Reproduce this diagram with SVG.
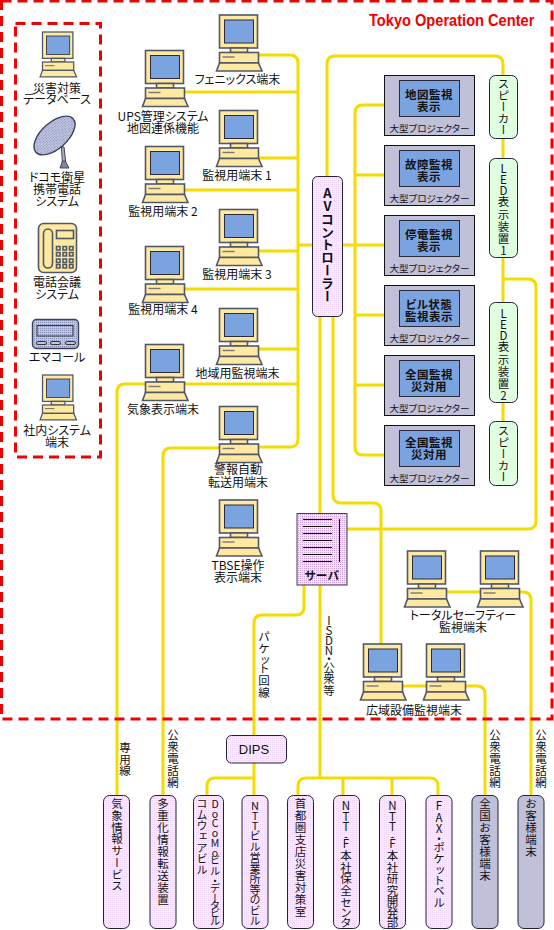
<svg xmlns="http://www.w3.org/2000/svg" width="554" height="930" viewBox="0 0 554 930">
<style>
text{font-family:"Noto Sans CJK JP","Liberation Sans",sans-serif;fill:#111;dominant-baseline:central;text-anchor:middle;font-size:12px;font-feature-settings:"palt"}
.b{font-weight:700;font-size:11.500px;letter-spacing:.5px}
.p{font-size:9.500px}
.v{writing-mode:vertical-rl;text-orientation:upright;text-anchor:start;font-feature-settings:normal;font-size:11.500px}
.title{font-family:"Liberation Sans",sans-serif;font-weight:700;font-size:17px;fill:#f00000;text-anchor:start;dominant-baseline:auto}
.c{fill:none;stroke:#f5dc00;stroke-width:3}
.r{fill:none;stroke:#f00000;stroke-width:3;stroke-dasharray:10 6}
.frame{fill:#ffe9a0;stroke:#505868;stroke-width:1.600}
.scr{fill:#7ba3e0;stroke:#2a2a3a;stroke-width:1}
.proj{fill:#c0c0d8;stroke:#111;stroke-width:1}
.box{stroke:#222238;stroke-width:1}
.lav{fill:url(#dotLav)}
.gr{fill:#e0ffe0}
.gy{fill:#c0c0d8}
</style>
<defs>
<pattern id="dotLav" width="2" height="2" patternUnits="userSpaceOnUse"><rect width="2" height="2" fill="#f8ecfc"/><rect width="1" height="1" fill="#ecd4f4"/></pattern>
<pattern id="dotSrv" width="2" height="2" patternUnits="userSpaceOnUse"><rect width="2" height="2" fill="#f4e4f8"/><rect width="1" height="1" fill="#c8a0d4"/></pattern>
<pattern id="dotBlue" width="2" height="2" patternUnits="userSpaceOnUse"><rect width="2" height="2" fill="#c0c6e0"/><rect width="1" height="1" fill="#8890b8"/></pattern>
<g id="pc">
<rect class="frame" x="0" y="0" width="38" height="33"/>
<rect class="scr" x="5" y="5" width="29" height="23"/>
<rect class="frame" x="11" y="33" width="17" height="4.500"/>
<rect class="frame" x="0" y="37.500" width="39" height="10.500"/>
<path d="M3 42H15" stroke="#777" stroke-width="1.400" fill="none"/>
<path class="frame" d="M0 48H39L42.500 56H-3Z"/>
</g>
<g id="prj">
<rect class="proj" x="0" y="0" width="90" height="60"/>
<rect class="scr" x="15" y="5" width="60" height="36"/>
<text class="p" x="45" y="52">大型プロジェクター</text>
</g>
</defs>
<rect width="554" height="930" fill="#fff"/>

<g id="connectors">
<path class="c" d="M258 55H290Q298 55 298 63V439Q298 447 290 447H258"/>
<path class="c" d="M184 92H298M258 158H298M184 190H298M258 251H298M184 289H298M258 349H298M184 384H298M298 245H313M343 245H355"/>
<path class="c" d="M327 176V64Q327 56 335 56H495Q503 56 503 64V421"/>
<path class="c" d="M385 105H363Q355 105 355 113V447Q355 455 363 455H385M355 175H385M355 245H385M355 315H385M355 385H385"/>
<path class="c" d="M503 279H528Q536 279 536 287V521Q536 529 528 529H347"/>
<path class="c" d="M320 317V778M298 796V786Q298 778 306 778H430Q438 778 438 786V796M343 778V796M392 778V796"/>
<path class="c" d="M333 317V495Q333 503 341 503H373Q381 503 381 511V644"/>
<path class="c" d="M304 585V607Q304 615 296 615H262Q254 615 254 623V735M254 763V796M254 778H215Q207 778 207 786V796"/>
<path class="c" d="M447 592H480M518 592H523Q531 592 531 600V796"/>
<path class="c" d="M402 686H426M465 686H477Q485 686 485 694V796"/>
<path class="c" d="M145 384H125Q117 384 117 392V796"/>
<path class="c" d="M219 448H171Q163 448 163 456V796"/>
</g>

<g id="boundaries">
<rect class="r" x="1.500" y="1" width="550.500" height="718"/>
<rect class="r" x="15.500" y="23.500" width="85" height="433.500"/>
</g>
<text id="title" class="title" transform="translate(369 26) scale(.86 1)">Tokyo Operation Center</text>

<g id="n-saigai"><use href="#pc" transform="translate(42.500 32) scale(.8)"/><text><tspan x="57" y="87">災害対策</tspan><tspan x="57" y="98">データベース</tspan></text></g>
<g id="n-docomo">
<path d="M61.500 147L64 147L66 165H62.500Z" fill="#a8b0d0" stroke="#445" stroke-width="1"/>
<path d="M60 168L62.500 161H65L69 168Z" fill="#8088a8" stroke="#445" stroke-width="1"/>
<ellipse cx="54.500" cy="135.500" rx="25" ry="13" transform="rotate(-42 54.500 135.500)" fill="url(#dotBlue)" stroke="#3c4058" stroke-width="1.400"/>
<text><tspan x="57" y="176">ドコモ衛星</tspan><tspan x="57" y="188">携帯電話</tspan><tspan x="57" y="200">システム</tspan></text></g>
<g id="n-tel">
<rect class="frame" x="38.500" y="223.500" width="38" height="49" rx="5"/>
<rect class="frame" x="43.500" y="229" width="9" height="39" rx="4.500"/>
<rect class="frame" x="56.500" y="230.500" width="17" height="8"/>
<path class="frame" d="M56.500 246.500h3.500v3.500h-3.500zM63 246.500h3.500v3.500h-3.500zM69.500 246.500h3.500v3.500h-3.500zM56.500 252.500h3.500v3.500h-3.500zM63 252.500h3.500v3.500h-3.500zM69.500 252.500h3.500v3.500h-3.500zM56.500 259h3.500v3.500h-3.500zM63 259h3.500v3.500h-3.500zM69.500 259h3.500v3.500h-3.500zM56.500 264.500h3.500v3.500h-3.500zM63 264.500h3.500v3.500h-3.500zM69.500 264.500h3.500v3.500h-3.500z"/>
<text><tspan x="57" y="281">電話会議</tspan><tspan x="57" y="293">システム</tspan></text></g>
<g id="n-pager">
<rect x="32.500" y="319.500" width="46" height="29" rx="4" fill="url(#dotBlue)" stroke="#3c4058" stroke-width="1.400"/>
<rect x="37" y="325.500" width="36" height="10.500" fill="url(#dotBlue)" stroke="#333" stroke-width="1"/>
<rect x="36.500" y="341.500" width="10" height="3" rx="1.500" fill="#c0c6e0" stroke="#333" stroke-width="1"/>
<rect x="50.500" y="341.500" width="10" height="3" rx="1.500" fill="#c0c6e0" stroke="#333" stroke-width="1"/>
<rect x="65.500" y="341.500" width="10" height="3" rx="1.500" fill="#c0c6e0" stroke="#333" stroke-width="1"/>
<text x="57" y="356">エマコール</text></g>
<g id="n-shanai"><use href="#pc" transform="translate(42.500 375) scale(.8)"/><text><tspan x="57" y="429">社内システム</tspan><tspan x="57" y="441">端末</tspan></text></g>

<g id="n-phoenix"><use href="#pc" x="219.500" y="15"/><text x="237.500" y="78">フェニックス端末</text></g>
<g id="n-ups"><use href="#pc" x="145.500" y="50.500"/><text><tspan x="163" y="115">UPS管理システム</tspan><tspan x="163" y="127">地図連係機能</tspan></text></g>
<g id="n-kanshi1"><use href="#pc" x="219.500" y="110.500"/><text x="237" y="174">監視用端末 1</text></g>
<g id="n-kanshi2"><use href="#pc" x="145.500" y="146.500"/><text x="163" y="210">監視用端末 2</text></g>
<g id="n-kanshi3"><use href="#pc" x="219.500" y="209.500"/><text x="237" y="273">監視用端末 3</text></g>
<g id="n-kanshi4"><use href="#pc" x="145.500" y="246.500"/><text x="163" y="308">監視用端末 4</text></g>
<g id="n-chiiki"><use href="#pc" x="219.500" y="308.500"/><text x="237.500" y="372">地域用監視端末</text></g>
<g id="n-kisho"><use href="#pc" x="145.500" y="344.500"/><text x="163" y="408">気象表示端末</text></g>
<g id="n-keiho"><use href="#pc" x="219.500" y="406.500"/><text><tspan x="238" y="468">警報自動</tspan><tspan x="238" y="481">転送用端末</tspan></text></g>
<g id="n-tbse"><use href="#pc" x="219.500" y="500"/><text><tspan x="238" y="564">TBSE操作</tspan><tspan x="238" y="576">表示端末</tspan></text></g>
<g id="n-total"><use href="#pc" x="407.500" y="551"/><use href="#pc" x="480.500" y="551"/><text><tspan x="463" y="614">トータルセーフティー</tspan><tspan x="463" y="626">監視端末</tspan></text></g>
<g id="n-koiki"><use href="#pc" x="363.500" y="644"/><use href="#pc" x="426.500" y="644"/><text x="414" y="709">広域設備監視端末</text></g>

<g id="n-av"><rect class="box lav" x="312.500" y="176.500" width="30" height="140" rx="5"/><text class="v" x="327.500" y="187 200 213 226 238 251 264 277 290" style="font-size:13px;font-weight:700">AVコントローラー</text></g>

<g id="n-p1"><use href="#prj" x="384.500" y="75.500"/><text class="b"><tspan x="429" y="94">地図監視</tspan><tspan x="429" y="106">表示</tspan></text></g>
<g id="n-p2"><use href="#prj" x="384.500" y="145.500"/><text class="b"><tspan x="429" y="164">故障監視</tspan><tspan x="429" y="176">表示</tspan></text></g>
<g id="n-p3"><use href="#prj" x="384.500" y="215.500"/><text class="b"><tspan x="429" y="234">停電監視</tspan><tspan x="429" y="246">表示</tspan></text></g>
<g id="n-p4"><use href="#prj" x="384.500" y="285.500"/><text class="b"><tspan x="429" y="304">ビル状態</tspan><tspan x="429" y="316">監視表示</tspan></text></g>
<g id="n-p5"><use href="#prj" x="384.500" y="355.500"/><text class="b"><tspan x="429" y="374">全国監視</tspan><tspan x="429" y="386">災対用</tspan></text></g>
<g id="n-p6"><use href="#prj" x="384.500" y="425.500"/><text class="b"><tspan x="429" y="442">全国監視</tspan><tspan x="429" y="454">災対用</tspan></text></g>

<g id="n-sp1"><rect class="box gr" x="489.500" y="75.500" width="28" height="63" rx="6"/><text class="v" x="503.500" y="78 89.500 101 112.500 124">スピーカー</text></g>
<g id="n-led1"><rect class="box gr" x="489.500" y="158.500" width="28" height="99" rx="6"/><text class="v" x="503.500" y="163 174 185 196 208.500 221 233 245">LED表示装置1</text></g>
<g id="n-led2"><rect class="box gr" x="489.500" y="302.500" width="28" height="100" rx="6"/><text class="v" x="503.500" y="308 319 330 341 353.500 366 378 390">LED表示装置2</text></g>
<g id="n-sp2"><rect class="box gr" x="489.500" y="421.500" width="28" height="64" rx="6"/><text class="v" x="503.500" y="425 436.500 448 459.500 471">スピーカー</text></g>

<g id="n-server">
<rect x="297" y="513.500" width="50" height="71.500" fill="url(#dotSrv)" stroke="#404060" stroke-width="1"/>
<path d="M303 519.500H332M303 526.500H332M303 533.500H332M303 540.500H332M303 547.500H332M303 554.500H332M303 561.500H332M339.500 519V562" stroke="#111" stroke-width="1" fill="none"/>
<text class="b" x="322" y="575">サーバ</text></g>

<g id="n-dips"><rect class="box lav" x="226.500" y="735.500" width="60" height="27.500" rx="5"/><text x="254" y="749" style="font-family:'Liberation Sans',sans-serif;font-size:13px">DIPS</text></g>

<g id="n-b1"><rect class="box lav" x="103.500" y="795.500" width="26" height="133" rx="6"/><text class="v" x="117" y="798 810 822 833 845 857 869 880">気象情報サービス</text></g>
<g id="n-b2"><rect class="box lav" x="150" y="795.500" width="26" height="133" rx="6"/><text class="v" x="163" y="798 810 822 834 846 858 870 882 894">多重化情報転送装置</text></g>
<g id="n-b3"><rect class="box lav" x="193.500" y="795.500" width="30" height="133" rx="6"/><text class="v" x="215" y="799 808.500 818 828 838 847.500 855 866 876 883 893 900 908 916" style="font-size:10.500px">DoCoMoビル・データビル</text><text class="v" x="202" y="798 809 820 831 842 853 864" style="font-size:11px">コムウェアビル</text></g>
<g id="n-b4"><rect class="box lav" x="242" y="795.500" width="26" height="133" rx="6"/><text class="v" x="255" y="800 810 820 830 841 852 863 873 884 894 905 915" style="font-size:11px">NTTビル営業所等のビル</text></g>
<g id="n-b5"><rect class="box lav" x="287.500" y="795.500" width="26" height="133" rx="6"/><text class="v" x="300.500" y="798 810 822 834 846 858 870 882 894 906">首都圏支店災害対策室</text></g>
<g id="n-b6"><rect class="box lav" x="333.500" y="795.500" width="26" height="133" rx="6"/><text class="v" x="346" y="800 811 821 831 838 849 850 862 873 885 897 907 917">NTT-F 本社保全センタ</text></g>
<g id="n-b7"><rect class="box lav" x="379.500" y="795.500" width="26" height="133" rx="6"/><text class="v" x="392.500" y="800 811 821 831 838 849 850 862 873 885 896 907 917">NTT-F 本社研究開発部</text></g>
<g id="n-b8"><rect class="box lav" x="426" y="795.500" width="26" height="133" rx="6"/><text class="v" x="439" y="800 811.500 822.500 833 842 853 865 875 885 896.500">FAX・ポケットベル</text></g>
<g id="n-b9"><rect class="box gy" x="472" y="795.500" width="26" height="133" rx="6"/><text class="v" x="485" y="798 810 822 834 846 858 870">全国お客様端末</text></g>
<g id="n-b10"><rect class="box gy" x="518" y="795.500" width="26" height="133" rx="6"/><text class="v" x="531" y="798 810 822 834 846">お客様端末</text></g>

<g id="labels">
<text class="v" x="264" y="631 643 655 663 675 687">パケット回線</text>
<text class="v" x="329" y="615 625 635 645 653 662 673 685">ISDN・公衆等</text>
<text class="v" x="125" y="742 753.500 765">専用線</text>
<text class="v" x="173" y="729 741 753 765 777">公衆電話網</text>
<text class="v" x="495" y="729 741 753 765 777">公衆電話網</text>
<text class="v" x="541" y="729 741 753 765 777">公衆電話網</text>
</g>
</svg>
